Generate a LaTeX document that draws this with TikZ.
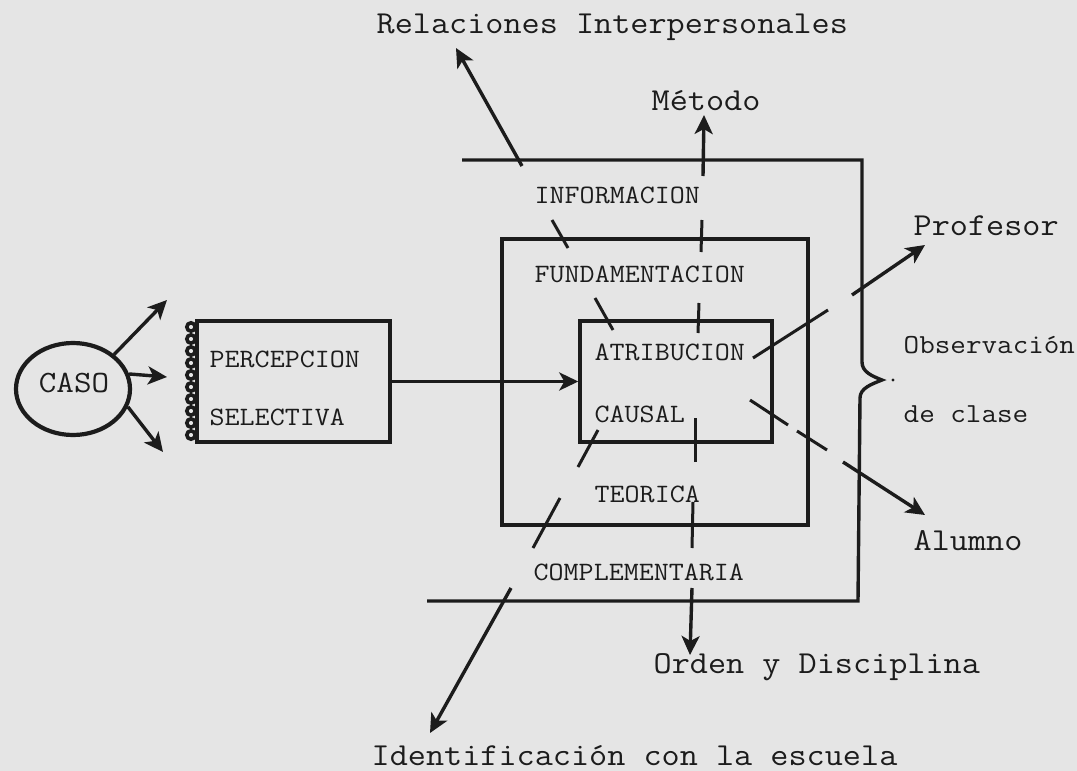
\documentclass[tikz,border=0pt]{standalone}
\usepackage{fontspec}
\newfontfamily\tw[FakeStretch=1.1]{Latin Modern Mono}
\usetikzlibrary{arrows.meta,shapes.geometric}
\definecolor{bg}{RGB}{229,229,229}
\definecolor{ink}{RGB}{28,28,28}
\begin{document}
\begin{tikzpicture}[x=1pt,y=-1pt, ink, line width=3.4pt,
  arr/.style={-{Stealth[length=19pt,width=18pt,inset=5pt]}, line width=3.4pt},
  seg/.style={line width=3pt},
  lbl/.style={font=\fontsize{32}{34}\tw, anchor=base west, inner sep=0pt},
  lbls/.style={font=\fontsize{27.5}{29}\tw, anchor=base west, inner sep=0pt},
  captxt/.style={font=\fontsize{26.5}{28}\tw, anchor=base west, inner sep=0pt},
  boxn/.style={draw, line width=3.4pt, inner sep=0pt}]
\fill[bg] (0,0) rectangle (1077,771);
\useasboundingbox (0,0) rectangle (1077,771);

% CASO
\node[boxn, ellipse, minimum width=114pt, minimum height=92pt, line width=4.2pt] (caso) at (73,389) {};
\node[captxt, anchor=base, font=\fontsize{31}{32}\tw] (casot) at (74,392) {CASO};
\coordinate (cu) at (167,300);
\coordinate (cr) at (167,377);
\coordinate (cd) at (163,452);
\draw[arr] (caso.40) -- (cu);
\draw[arr] (caso.15) -- (cr);
\draw[arr] (caso.-18) -- (cd);

% Percepcion box
\node[boxn, minimum width=193pt, minimum height=121pt] (perc) at (293.5,381.5) {};
\foreach \k in {0,...,9} \draw[line width=3.6pt] (191,{327+12*\k}) circle (4.2pt);
\node[captxt] (pt1) at (208,367) {PERCEPCION};
\node[captxt] (pt2) at (208,425) {SELECTIVA};

% boxes
\node[boxn, minimum width=306pt, minimum height=286pt] (fund) at (655,382) {};
\node[boxn, minimum width=192pt, minimum height=121pt] (atr) at (676,381.5) {};
\draw (462,160) -- (862,160) -- (862,362)
  .. controls (862,372) and (872,376) .. (882,380)
  .. controls (872,384) and (860,388) .. (860,398) -- (858,601) -- (427,601);
\fill (893,380) circle (1.6pt);

\draw[arr] (perc.east) -- (atr.west);

% box texts
\node[captxt] (t1) at (533,203) {INFORMACION};
\node[captxt] (t2) at (533,282) {FUNDAMENTACION};
\node[captxt] (t3) at (593,360) {ATRIBUCION};
\node[captxt] (t4) at (593,422) {CAUSAL};
\node[captxt] (t5) at (593,502) {TEORICA};
\node[captxt] (t6) at (532,580) {COMPLEMENTARIA};

% rays
\coordinate (r0) at (456,48);  \coordinate (r1) at (522,166);
\coordinate (r2) at (552,220); \coordinate (r3) at (568,248);
\coordinate (r4) at (595,298); \coordinate (r5) at (613,330);
\draw[arr] (r1) -- (r0); \draw[seg] (r2) -- (r3); \draw[seg] (r4) -- (r5);

\coordinate (m0) at (704,115); \coordinate (m1) at (703,176);
\coordinate (m2) at (702,220); \coordinate (m3) at (701,252);
\coordinate (m4) at (699,303); \coordinate (m5) at (698,333);
\draw[arr] (m1) -- (m0); \draw[seg] (m2) -- (m3); \draw[seg] (m4) -- (m5);

\coordinate (p0) at (925,245); \coordinate (p1) at (852,295);
\coordinate (p2) at (828,310); \coordinate (p3) at (753,358);
\draw[arr] (p1) -- (p0); \draw[seg] (p3) -- (p2);

\coordinate (a0) at (925,515); \coordinate (a1) at (843,462);
\coordinate (a2) at (827,450); \coordinate (a3) at (797,431);
\coordinate (a4) at (788,425); \coordinate (a5) at (750,400);
\draw[arr] (a1) -- (a0); \draw[seg] (a2) -- (a3); \draw[seg] (a4) -- (a5);

\coordinate (o0) at (690,655); \coordinate (o1) at (692,588);
\coordinate (o2) at (692,548); \coordinate (o3) at (693,502);
\coordinate (o4) at (695,462); \coordinate (o5) at (695,418);
\draw[arr] (o1) -- (o0); \draw[seg] (o2) -- (o3); \draw[seg] (o4) -- (o5);

\coordinate (i0) at (430,733); \coordinate (i1) at (511,588);
\coordinate (i2) at (533,548); \coordinate (i3) at (560,498);
\coordinate (i4) at (578,467); \coordinate (i5) at (598,430);
\draw[arr] (i1) -- (i0); \draw[seg] (i2) -- (i3); \draw[seg] (i4) -- (i5);

% outer labels
\node[lbl] (rel) at (375,33) {Relaciones Interpersonales};
\node[lbl] (met) at (650,110) {Método};
\node[lbl] (prof) at (912,235) {Profesor};
\node[lbls] (obs) at (902,353) {Observación};
\node[lbls] (clase) at (902,422) {de clase};
\node[lbl] (alu) at (912,550) {Alumno};
\node[lbl] (ord) at (652,673) {Orden y Disciplina};
\node[lbl] (ide) at (370,765) {Identificación con la escuela};
\end{tikzpicture}
\end{document}
